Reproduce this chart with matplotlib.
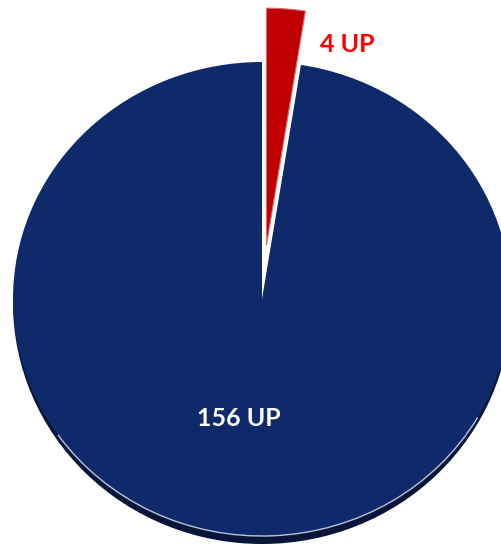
'''
Pie chart of UP counts, one small slice pulled out at the top
'''
import numpy as np
import matplotlib.pyplot as plt
from matplotlib.patches import Ellipse, Rectangle, Arc

values = [4, 156]
labels = ['4 UP', '156 UP']
colors = ['#c00000', '#0e2a6b']
label_colors = ['#ff0000', 'white']

# pixel geometry of the picture (x is stretched a little, pie looks like an ellipse)
W, H = 501, 550
sx = 249 / 237.0
cx, cy, r = 262 / sx, H - 299, 237

fig = plt.figure(figsize=(W / 100, H / 100), dpi=100)
ax = fig.add_axes([0, 0, 1, 1])

wedges, _ = ax.pie(values, colors=colors, startangle=90, counterclock=False,
	explode=[54, 0], center=(cx, cy), radius=r,
	wedgeprops=dict(edgecolor='none'))
for w in wedges:
	w.set_zorder(1)
wedges[0].set_edgecolor('#e07070')
wedges[0].set_linewidth(0.8)

# dark shadow that grows towards the bottom, only on the lower half
shadow = Ellipse((cx, cy - 4), 2 * r, 2 * r + 8, facecolor='#071638', edgecolor='none', zorder=0)
ax.add_patch(shadow)
clip = Rectangle((0, 0), W, cy, transform=ax.transData, visible=False)
ax.add_patch(clip)
shadow.set_clip_path(clip)

# thin light rim along the bottom
rim = Arc((cx, cy), 2 * r, 2 * r, theta1=215, theta2=330, color='#b9c3d8', lw=1.0, zorder=2)
ax.add_patch(rim)

ax.text(347 / sx, H - 44, labels[0], color=label_colors[0], fontsize=18,
	fontweight='bold', family='Lato', ha='center', va='center')
ax.text(239 / sx, H - 418, labels[1], color=label_colors[1], fontsize=18,
	fontweight='bold', family='Lato', ha='center', va='center')

ax.set_xlim(0, W / sx)
ax.set_ylim(0, H)
ax.set_aspect('auto')
ax.axis('off')
plt.savefig('out.png', dpi=100)
